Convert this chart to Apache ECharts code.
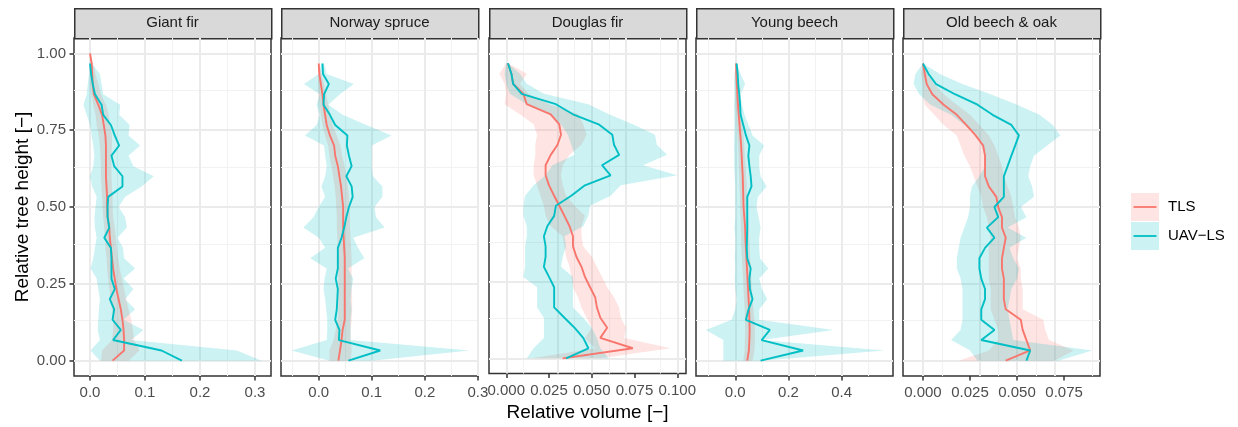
<!DOCTYPE html>
<html>
<head>
<meta charset="utf-8">
<title>Relative volume profiles</title>
<script src="https://cdn.jsdelivr.net/npm/echarts@6.0.0/dist/echarts.min.js"></script>
<style>
  html, body { margin: 0; background: #fff; }
  #chart { width: 1238px; height: 427px; }
</style>
</head>
<body>
<div id="chart"></div>
<script>
// relative tree height of each slice (bottom to top)
const heights = [0.000, 0.033, 0.067, 0.100, 0.133, 0.167, 0.200, 0.233, 0.267, 0.300,
  0.333, 0.367, 0.400, 0.433, 0.467, 0.500, 0.533, 0.567, 0.600, 0.633,
  0.667, 0.700, 0.733, 0.767, 0.800, 0.833, 0.867, 0.900, 0.933, 0.967, 1.000];

const species = ["Giant fir", "Norway spruce", "Douglas fir", "Young beech", "Old beech & oak"];
const methods = ["TLS", "UAV−LS"];

// Giant fir
const giantTls = [0.041, 0.062, 0.062, 0.061, 0.059, 0.056, 0.052, 0.048, 0.045, 0.042,
  0.040, 0.038, 0.036, 0.035, 0.032, 0.031, 0.031, 0.030, 0.029, 0.029,
  0.029, 0.029, 0.028, 0.025, 0.022, 0.015, 0.007, 0.005, 0.004, 0.003, 0.000];
const giantTlsLo = [0.020, 0.022, 0.040, 0.042, 0.042, 0.040, 0.038, 0.035, 0.033, 0.031,
  0.030, 0.028, 0.027, 0.026, 0.024, 0.023, 0.022, 0.021, 0.020, 0.020,
  0.019, 0.018, 0.016, 0.012, 0.010, 0.006, 0.002, 0.000, 0.000, 0.000, 0.000];
const giantTlsHi = [0.070, 0.090, 0.080, 0.078, 0.075, 0.070, 0.066, 0.062, 0.058, 0.054,
  0.051, 0.049, 0.047, 0.045, 0.042, 0.041, 0.041, 0.040, 0.039, 0.039,
  0.039, 0.040, 0.040, 0.036, 0.034, 0.029, 0.020, 0.015, 0.010, 0.006, 0.000];
const giantUav = [0.167, 0.130, 0.042, 0.056, 0.041, 0.044, 0.036, 0.045, 0.039, 0.039,
  0.039, 0.038, 0.026, 0.035, 0.032, 0.032, 0.033, 0.059, 0.059, 0.044,
  0.039, 0.053, 0.045, 0.038, 0.024, 0.021, 0.009, 0.005, 0.002, 0.000];
const giantUavLo = [0.018, 0.001, 0.018, 0.014, 0.015, 0.016, 0.018, 0.015, 0.012, 0.001,
  0.006, 0.009, 0.012, 0.009, 0.008, 0.010, 0.012, 0.004, 0.000, 0.006,
  0.008, 0.006, 0.003, 0.000, -0.006, -0.012, -0.006, -0.004, -0.002, 0.000];
const giantUavHi = [0.312, 0.267, 0.075, 0.097, 0.061, 0.082, 0.064, 0.079, 0.061, 0.082,
  0.062, 0.060, 0.050, 0.067, 0.064, 0.052, 0.064, 0.094, 0.116, 0.079,
  0.070, 0.091, 0.070, 0.072, 0.053, 0.055, 0.024, 0.021, 0.018, 0.003];

// Norway spruce
const spruceTls = [0.037, 0.040, 0.043, 0.045, 0.049, 0.049, 0.049, 0.049, 0.049, 0.049,
  0.049, 0.048, 0.047, 0.046, 0.046, 0.046, 0.044, 0.042, 0.039, 0.036,
  0.031, 0.029, 0.021, 0.015, 0.012, 0.009, 0.007, 0.004, 0.001, 0.000];
const spruceTlsLo = [0.020, 0.020, 0.028, 0.032, 0.036, 0.037, 0.037, 0.037, 0.037, 0.037,
  0.036, 0.036, 0.035, 0.034, 0.034, 0.033, 0.032, 0.030, 0.027, 0.024,
  0.020, 0.018, 0.012, 0.007, 0.004, 0.002, 0.000, -0.001, -0.001, 0.000];
const spruceTlsHi = [0.060, 0.062, 0.060, 0.060, 0.062, 0.063, 0.063, 0.062, 0.062, 0.062,
  0.062, 0.061, 0.060, 0.059, 0.059, 0.058, 0.057, 0.055, 0.052, 0.049,
  0.044, 0.041, 0.034, 0.026, 0.022, 0.018, 0.014, 0.010, 0.005, 0.001];
const spruceUav = [0.056, 0.116, 0.038, 0.039, 0.031, 0.034, 0.035, 0.036, 0.032, 0.036,
  0.036, 0.036, 0.043, 0.048, 0.052, 0.057, 0.064, 0.062, 0.052, 0.062,
  0.057, 0.053, 0.054, 0.031, 0.021, 0.009, 0.010, 0.019, 0.008, 0.007];
const spruceUavLo = [0.020, -0.051, 0.015, 0.016, 0.016, 0.014, 0.012, 0.009, 0.011, 0.015,
  -0.016, 0.012, 0.000, -0.029, -0.010, 0.000, 0.012, 0.005, 0.012, 0.015,
  0.012, 0.010, -0.026, -0.004, 0.002, -0.004, 0.002, -0.028, 0.000, 0.005];
const spruceUavHi = [0.100, 0.284, 0.060, 0.060, 0.060, 0.062, 0.060, 0.062, 0.065, 0.055,
  0.086, 0.074, 0.065, 0.124, 0.108, 0.105, 0.120, 0.120, 0.102, 0.100,
  0.100, 0.100, 0.137, 0.090, 0.045, 0.018, 0.040, 0.066, 0.015, 0.010];

// Douglas fir
const douglasTls = [0.033, 0.074, 0.055, 0.059, 0.055, 0.053, 0.052, 0.049, 0.046, 0.044,
  0.041, 0.039, 0.039, 0.037, 0.034, 0.031, 0.028, 0.025, 0.023, 0.023,
  0.026, 0.030, 0.032, 0.031, 0.026, 0.012, 0.010, 0.004, 0.003, 0.001];
const douglasTlsLo = [0.015, 0.052, 0.046, 0.050, 0.047, 0.044, 0.042, 0.039, 0.038, 0.037,
  0.035, 0.034, 0.033, 0.026, 0.023, 0.022, 0.020, 0.018, 0.016, 0.016,
  0.017, 0.017, 0.018, 0.016, 0.008, -0.001, 0.000, -0.001, -0.004, 0.000];
const douglasTlsHi = [0.055, 0.096, 0.069, 0.070, 0.067, 0.066, 0.063, 0.059, 0.056, 0.053,
  0.050, 0.045, 0.044, 0.044, 0.046, 0.040, 0.035, 0.033, 0.032, 0.033,
  0.037, 0.044, 0.047, 0.045, 0.042, 0.025, 0.013, 0.008, 0.012, 0.001];
const douglasUav = [0.035, 0.048, 0.045, 0.040, 0.034, 0.028, 0.028, 0.028, 0.025, 0.022,
  0.023, 0.023, 0.022, 0.024, 0.028, 0.029, 0.038, 0.046, 0.061, 0.056,
  0.066, 0.063, 0.062, 0.054, 0.039, 0.029, 0.009, 0.004, 0.003, 0.001];
const douglasUavLo = [0.012, 0.016, 0.022, 0.022, 0.022, 0.018, 0.018, 0.018, 0.010, 0.011,
  0.011, 0.011, 0.012, 0.012, 0.010, 0.010, 0.011, 0.016, 0.023, 0.027,
  0.040, 0.038, 0.036, 0.032, 0.025, 0.012, 0.002, 0.000, -0.001, 0.000];
const douglasUavHi = [0.060, 0.055, 0.053, 0.050, 0.045, 0.039, 0.039, 0.039, 0.039, 0.032,
  0.033, 0.035, 0.034, 0.045, 0.048, 0.049, 0.061, 0.067, 0.100, 0.080,
  0.094, 0.088, 0.087, 0.074, 0.060, 0.048, 0.022, 0.012, 0.008, 0.001];

// Young beech
const youngTls = [0.045, 0.051, 0.053, 0.054, 0.053, 0.052, 0.050, 0.048, 0.046, 0.044,
  0.042, 0.040, 0.038, 0.037, 0.034, 0.031, 0.030, 0.029, 0.028, 0.026,
  0.024, 0.022, 0.019, 0.016, 0.013, 0.010, 0.008, 0.006, 0.004, 0.003];
const youngTlsLo = [0.030, 0.035, 0.036, 0.037, 0.036, 0.035, 0.033, 0.031, 0.029, 0.027,
  0.025, 0.023, 0.022, 0.021, 0.020, 0.018, 0.017, 0.016, 0.015, 0.013,
  0.012, 0.010, 0.008, 0.006, 0.004, 0.002, 0.001, 0.000, 0.000, 0.001];
const youngTlsHi = [0.065, 0.072, 0.074, 0.074, 0.072, 0.068, 0.065, 0.062, 0.060, 0.058,
  0.056, 0.054, 0.052, 0.051, 0.048, 0.046, 0.044, 0.043, 0.041, 0.039,
  0.036, 0.034, 0.031, 0.027, 0.023, 0.018, 0.015, 0.012, 0.008, 0.004];
const youngUav = [0.095, 0.255, 0.099, 0.130, 0.040, 0.050, 0.065, 0.055, 0.053, 0.058,
  0.045, 0.043, 0.044, 0.045, 0.045, 0.045, 0.045, 0.061, 0.058, 0.053,
  0.049, 0.053, 0.040, 0.030, 0.020, 0.018, 0.015, 0.011, 0.009, 0.005];
const youngUavLo = [-0.045, -0.045, -0.045, -0.111, -0.014, 0.000, 0.005, 0.000, -0.002, 0.000,
  -0.002, 0.000, 0.000, -0.003, 0.000, 0.000, 0.000, 0.000, -0.002, -0.004,
  -0.004, -0.005, -0.004, -0.003, -0.004, -0.005, -0.003, -0.005, -0.003, 0.004];
const youngUavHi = [0.100, 0.560, 0.100, 0.370, 0.090, 0.090, 0.120, 0.100, 0.090, 0.124,
  0.093, 0.090, 0.090, 0.095, 0.088, 0.080, 0.085, 0.118, 0.095, 0.090,
  0.090, 0.108, 0.065, 0.050, 0.035, 0.025, 0.020, 0.037, 0.020, 0.006];

// Old beech & oak
const oldTls = [0.044, 0.057, 0.055, 0.053, 0.052, 0.044, 0.043, 0.043, 0.043, 0.042,
  0.042, 0.043, 0.044, 0.042, 0.042, 0.040, 0.039, 0.035, 0.033, 0.033,
  0.033, 0.032, 0.028, 0.023, 0.018, 0.011, 0.005, 0.002, 0.001, 0.000];
const oldTlsLo = [0.019, 0.035, 0.040, 0.040, 0.038, 0.036, 0.036, 0.036, 0.035, 0.035,
  0.035, 0.035, 0.036, 0.035, 0.034, 0.032, 0.031, 0.029, 0.027, 0.025,
  0.022, 0.020, 0.018, 0.011, 0.006, 0.001, 0.000, 0.000, -0.001, 0.000];
const oldTlsHi = [0.070, 0.080, 0.067, 0.065, 0.064, 0.053, 0.053, 0.053, 0.052, 0.052,
  0.050, 0.051, 0.052, 0.051, 0.049, 0.048, 0.047, 0.045, 0.043, 0.042,
  0.040, 0.038, 0.035, 0.030, 0.025, 0.018, 0.011, 0.006, 0.003, 0.000];
const oldUav = [0.055, 0.057, 0.031, 0.038, 0.031, 0.031, 0.033, 0.033, 0.031, 0.030,
  0.030, 0.033, 0.038, 0.034, 0.040, 0.038, 0.043, 0.043, 0.043, 0.045,
  0.047, 0.049, 0.051, 0.047, 0.037, 0.029, 0.017, 0.007, 0.003, 0.000];
const oldUavLo = [0.029, 0.025, 0.015, 0.020, 0.021, 0.021, 0.021, 0.021, 0.020, 0.018,
  0.018, 0.019, 0.020, 0.022, 0.024, 0.025, 0.025, 0.026, 0.030, 0.033,
  0.033, 0.031, 0.029, 0.022, 0.015, 0.004, -0.002, -0.005, -0.004, 0.000];
const oldUavHi = [0.072, 0.090, 0.048, 0.047, 0.046, 0.045, 0.046, 0.047, 0.050, 0.051,
  0.048, 0.046, 0.055, 0.045, 0.055, 0.052, 0.059, 0.058, 0.056, 0.057,
  0.059, 0.066, 0.073, 0.069, 0.062, 0.050, 0.036, 0.021, 0.009, 0.000];

// tick labels
const yTicks = [0, 0.25, 0.5, 0.75, 1];
const xTicks = [
  [0, 0.1, 0.2, 0.3],
  [0, 0.1, 0.2, 0.3],
  [0, 0.025, 0.05, 0.075, 0.1],
  [0, 0.2, 0.4],
  [0, 0.025, 0.05, 0.075]
];
const xDigits = [1, 1, 3, 1, 3];

// ---- layout ----
const FONT = "'Liberation Sans', Arial, sans-serif";
const RED = "#F8766D", TEAL = "#00BFC4";
const RED_FILL = "rgba(248,118,109,0.2)", TEAL_FILL = "rgba(0,191,196,0.2)";
const panelLeft = [74, 281, 489, 696, 903];
const panelWidth = 197, panelTop = 38, panelHeight = 338;
const xLimits = [[-0.0291, 0.3291], [-0.0712, 0.3003], [-0.0101, 0.1051], [-0.1477, 0.5929], [-0.0106, 0.0941]];
const yLimits = [-0.05, 1.05];

const profiles = [
  [giantTls, giantTlsLo, giantTlsHi, giantUav, giantUavLo, giantUavHi],
  [spruceTls, spruceTlsLo, spruceTlsHi, spruceUav, spruceUavLo, spruceUavHi],
  [douglasTls, douglasTlsLo, douglasTlsHi, douglasUav, douglasUavLo, douglasUavHi],
  [youngTls, youngTlsLo, youngTlsHi, youngUav, youngUavLo, youngUavHi],
  [oldTls, oldTlsLo, oldTlsHi, oldUav, oldUavLo, oldUavHi]
];

// major + minor grid values (minor = halfway between majors, kept inside limits)
function gridValues(ticks, lim) {
  const step = ticks[1] - ticks[0];
  const minor = [];
  ticks.forEach(t => [t - step / 2, t + step / 2].forEach(m => {
    if (m > lim[0] && m < lim[1] && !minor.some(v => Math.abs(v - m) < 1e-9)) minor.push(m);
  }));
  return { major: ticks.filter(t => t >= lim[0] && t <= lim[1]), minor };
}

function gridSeries(i) {
  const gx = gridValues(xTicks[i], xLimits[i]);
  const gy = gridValues(yTicks, yLimits);
  const major = { color: "#EBEBEB", width: 2, type: "solid" };
  const minor = { color: "#F2F2F2", width: 1, type: "solid" };
  const data = [];
  gx.minor.forEach(v => data.push({ xAxis: v, lineStyle: minor }));
  gy.minor.forEach(v => data.push({ yAxis: v, lineStyle: minor }));
  gx.major.forEach(v => data.push({ xAxis: v, lineStyle: major }));
  gy.major.forEach(v => data.push({ yAxis: v, lineStyle: major }));
  return {
    type: "line", xAxisIndex: i, yAxisIndex: i, data: [], silent: true, z: 0,
    markLine: { silent: true, symbol: ["none", "none"], label: { show: false }, z: 1, animation: false, data }
  };
}

function ribbonSeries(i, name, lo, hi, fill) {
  const rows = [];
  lo.forEach((v, k) => rows.push([v, hi[k], heights[k]]));
  return {
    type: "custom", name, xAxisIndex: i, yAxisIndex: i, silent: true, z: 2,
    data: rows, encode: { x: [0, 1], y: 2 },
    renderItem: (params, api) => {
      if (params.dataIndex !== 0) return null;
      const pts = [];
      for (let k = 0; k < rows.length; k++) pts.push(api.coord([api.value(0, k), api.value(2, k)]));
      for (let k = rows.length - 1; k >= 0; k--) pts.push(api.coord([api.value(1, k), api.value(2, k)]));
      return { type: "polygon", shape: { points: pts }, style: { fill } };
    }
  };
}

function lineSeries(i, name, vals, color) {
  return {
    type: "line", name, xAxisIndex: i, yAxisIndex: i, z: 3, silent: true,
    showSymbol: false, symbol: "none",
    data: vals.map((v, k) => [v, heights[k]]),
    lineStyle: { color, width: 1.9 }, itemStyle: { color }
  };
}

const grid = [], xAxis = [], yAxis = [], series = [], graphic = [];
species.forEach((name, i) => {
  grid.push({ left: panelLeft[i], top: panelTop, width: panelWidth, height: panelHeight,
    show: true, borderColor: "#333333", borderWidth: 1.5, backgroundColor: "transparent" });
  xAxis.push({
    type: "value", gridIndex: i, min: xLimits[i][0], max: xLimits[i][1], position: "bottom",
    axisLine: { show: false, onZero: false }, splitLine: { show: false },
    axisTick: { show: true, customValues: xTicks[i], length: 4.5, lineStyle: { color: "#333333", width: 1.5 } },
    axisLabel: { customValues: xTicks[i], margin: 9.5, color: "#4D4D4D", fontSize: 15, fontFamily: FONT,
      formatter: v => v.toFixed(xDigits[i]) },
    name: i === 2 ? "Relative volume [−]" : "", nameLocation: "middle", nameGap: 24,
    nameTextStyle: { fontSize: 19, color: "#000", fontFamily: FONT }
  });
  yAxis.push({
    type: "value", gridIndex: i, min: yLimits[0], max: yLimits[1], position: "left",
    axisLine: { show: false, onZero: false }, splitLine: { show: false },
    axisTick: { show: i === 0, customValues: yTicks, length: 4.5, lineStyle: { color: "#333333", width: 1.5 } },
    axisLabel: { show: i === 0, customValues: yTicks, margin: 8, color: "#4D4D4D", fontSize: 15, fontFamily: FONT,
      formatter: v => v.toFixed(2) },
    name: i === 0 ? "Relative tree height [−]" : "", nameLocation: "middle", nameGap: 42, nameRotate: 90,
    nameTextStyle: { fontSize: 19, color: "#000", fontFamily: FONT }
  });
  const p = profiles[i];
  series.push(gridSeries(i));
  series.push(ribbonSeries(i, methods[0], p[1], p[2], RED_FILL));
  series.push(ribbonSeries(i, methods[1], p[4], p[5], TEAL_FILL));
  series.push(lineSeries(i, methods[0], p[0], RED));
  series.push(lineSeries(i, methods[1], p[3], TEAL));

  // facet strip
  graphic.push({ type: "rect", left: panelLeft[i], top: 8, silent: true,
    shape: { width: panelWidth, height: 30 },
    style: { fill: "#D9D9D9", stroke: "#333333", lineWidth: 1.5 } });
  graphic.push({ type: "text", x: panelLeft[i] + panelWidth / 2, y: 23, silent: true,
    style: { text: name, fill: "#1A1A1A", fontSize: 15, fontFamily: FONT, align: "center", verticalAlign: "middle" } });
});

const legendBase = {
  orient: "vertical", left: 1131, top: 193, itemWidth: 28, itemHeight: 28, itemGap: 1,
  padding: 0, selectedMode: false
};

const chart = echarts.init(document.getElementById("chart"));
chart.setOption({
  animation: false,
  backgroundColor: "#fff",
  grid, xAxis, yAxis, series, graphic,
  legend: [
    Object.assign({}, legendBase, {
      textStyle: { fontSize: 15, color: "#000", fontFamily: FONT, padding: [0, 0, 0, 4] },
      data: [
        { name: methods[0], icon: "rect", itemStyle: { color: RED_FILL, borderWidth: 0 } },
        { name: methods[1], icon: "rect", itemStyle: { color: TEAL_FILL, borderWidth: 0 } }
      ]
    }),
    Object.assign({}, legendBase, {
      textStyle: { fontSize: 15, color: "rgba(0,0,0,0)", fontFamily: FONT, padding: [0, 0, 0, 4] },
      data: [
        { name: methods[0], icon: "path://M0,0M28,28M2.5,13.1H25.5V14.9H2.5Z", itemStyle: { color: RED, borderWidth: 0 } },
        { name: methods[1], icon: "path://M0,0M28,28M2.5,13.1H25.5V14.9H2.5Z", itemStyle: { color: TEAL, borderWidth: 0 } }
      ]
    })
  ]
});
window.addEventListener("resize", () => chart.resize());
</script>
</body>
</html>
